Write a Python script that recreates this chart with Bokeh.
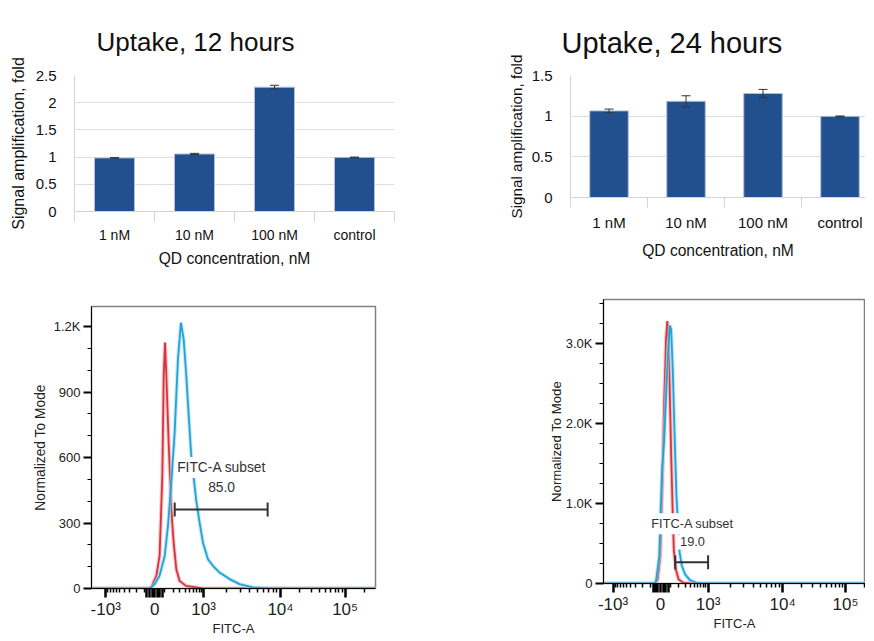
import numpy as np
from bokeh.plotting import figure
from bokeh.models import FixedTicker, Whisker, TeeHead, ColumnDataSource, Label, Range1d, Title
from bokeh.layouts import column, row
from bokeh.embed import file_html
from bokeh.resources import INLINE

FONT = "Liberation Sans"

# ---------------- bar chart data ----------------
CATEGORIES = ["1 nM", "10 nM", "100 nM", "control"]
UPTAKE_12H = [0.985, 1.057, 2.285, 0.995]
ERR_12H = [0.006, 0.012, 0.035, 0.005]
UPTAKE_24H = [1.065, 1.183, 1.279, 0.998]
ERR_24H = [0.022, 0.068, 0.050, 0.004]
Y_TICKS_12H = [0, 0.5, 1, 1.5, 2, 2.5]
Y_TICKS_24H = [0, 0.5, 1, 1.5]

# ---------------- flow histograms (FITC-A intensity, count) ----------------
RED_12H_X = [-3000, -60, -32, 16, 47, 74, 88, 102, 116, 142, 174, 204, 242, 293, 417, 968, 300000]
RED_12H_Y = [0, 0, 5, 58, 149, 516, 974, 1127, 974, 669, 363, 211, 88, 35, 12, 0, 0]
BLUE_12H_X = [-3000, -46, 0, 46, 98, 134, 174, 218, 267, 317, 368, 423, 485, 546, 700, 823, 967,
              1138, 1321, 1615, 2178, 2938, 4375, 7213, 300000]
BLUE_12H_Y = [0, 0, 20, 58, 149, 287, 485, 714, 1050, 1218, 1142, 974, 775, 607, 401, 302, 211,
              134, 104, 73, 43, 20, 5, 0, 0]
RED_24H_X = [-3000, -50, -28, -3, 16, 35, 54, 67, 81, 94, 108, 123, 138, 162, 200, 273, 469, 300000]
RED_24H_Y = [0, 0, 51, 346, 1190, 2245, 3047, 3279, 3004, 2330, 1612, 979, 430, 177, 51, 8, 0, 0]
BLUE_24H_X = [-3000, -60, -44, -12, 3, 16, 35, 54, 74, 94, 108, 126, 146, 170, 213, 247, 300, 394,
              555, 770, 300000]
BLUE_24H_Y = [0, 0, 30, 346, 979, 1443, 1781, 2330, 2878, 3224, 3174, 2667, 1908, 1105, 389, 219,
              114, 42, 9, 0, 0]

GATE_12H = dict(lower=219, upper=6800, height=362, value="85.0")
GATE_24H = dict(lower=155, upper=1000, height=266, value="19.0")

X_MAJOR = [-1000, 0, 1000, 10000, 100000]
X_MAJOR_LABELS = ["-10³", "0", "10³", "10⁴", "10⁵"]
X_ZERO_CLUSTER = [-75, -50, -25, 25, 50, 75]
X_MINOR = ([-v for v in range(100, 1000, 100)] + list(range(100, 1000, 100)) +
           list(range(2000, 10000, 1000)) + list(range(20000, 100000, 10000)) + [200000])

Y12_MAJOR = [0, 300, 600, 900, 1200]
Y12_LABELS = ["0", "300", "600", "900", "1.2K"]
Y12_MINOR = list(range(100, 1300, 100))
Y24_MAJOR = [0, 1000, 2000, 3000]
Y24_LABELS = ["0", "1.0K", "2.0K", "3.0K"]
Y24_MINOR = list(range(250, 3750, 250))

# biexponential-like display transform of the FITC-A axis
LIN_WIDTH = 200.0
DEC_3_4 = 1.57
DEC_4_5 = 1.32


def fluor_to_display(v):
    v = np.asarray(v, dtype=float)
    a = np.abs(v)
    lin = np.arcsinh(a / LIN_WIDTH) / np.arcsinh(1000.0 / LIN_WIDTH)
    la = np.log10(np.maximum(a, 1.0))
    logpart = np.where(a <= 1e4, 1.0 + (la - 3.0) * DEC_3_4, 1.0 + DEC_3_4 + (la - 4.0) * DEC_4_5)
    return np.sign(v) * np.where(a <= 1000.0, lin, logpart)


def tick_pos(vals):
    return [round(float(x), 6) for x in fluor_to_display(vals)]


# ---------------- bar charts ----------------
def bar_chart(title, values, errs, yticks, frame, borders, xmax, title_size, title_offset,
              title_standoff, cat_size, cat_standoff, xlab_standoff, ylab_size, ylab_standoff):
    left, right, top, bottom = borders
    fw, fh = frame
    p = figure(frame_width=fw, frame_height=fh, x_range=Range1d(0, xmax),
               y_range=Range1d(0, yticks[-1]), output_backend="svg", toolbar_location=None,
               min_border_left=left, min_border_right=right, min_border_top=top,
               min_border_bottom=bottom, title=None)
    p.outline_line_color = None
    p.background_fill_color = "white"
    p.border_fill_color = "white"

    p.add_layout(Title(text=title, text_font=FONT, text_font_size=title_size,
                       text_font_style="normal", text_color="#111111", align="left",
                       offset=title_offset, standoff=title_standoff), "above")

    centers = [i + 0.5 for i in range(len(CATEGORIES))]
    src = ColumnDataSource(dict(x=centers, top=values,
                                upper=[v + e for v, e in zip(values, errs)],
                                lower=[v - e for v, e in zip(values, errs)]))
    p.vbar(x="x", top="top", width=0.5, source=src, fill_color="#22508f",
           line_color="#aebfd9", line_width=1)
    w = Whisker(source=src, base="x", upper="upper", lower="lower", line_color="#333333",
                line_width=1,
                upper_head=TeeHead(size=9, line_color="#333333", line_width=1),
                lower_head=TeeHead(size=9, line_color="#333333", line_width=1))
    w.level = "overlay"
    p.add_layout(w)

    p.xgrid.grid_line_color = None
    p.ygrid.grid_line_color = "#dedede"
    p.ygrid.grid_line_width = 1

    ya = p.yaxis[0]
    ya.ticker = FixedTicker(ticks=yticks)
    ya.major_label_overrides = {t: f"{t:g}" for t in yticks}
    ya.axis_line_color = "#d4d4d4"
    ya.major_tick_line_color = None
    ya.minor_tick_line_color = None
    ya.major_label_text_font = FONT
    ya.major_label_text_font_size = "15px"
    ya.major_label_text_color = "#111111"
    ya.major_label_standoff = 12
    ya.axis_label = "Signal amplification, fold"
    ya.axis_label_text_font = FONT
    ya.axis_label_text_font_size = ylab_size
    ya.axis_label_text_font_style = "normal"
    ya.axis_label_text_color = "#111111"
    ya.axis_label_standoff = ylab_standoff

    xa = p.xaxis[0]
    xa.ticker = FixedTicker(ticks=centers, minor_ticks=list(range(len(CATEGORIES) + 1)))
    xa.major_label_overrides = {c: n for c, n in zip(centers, CATEGORIES)}
    xa.major_tick_line_color = None
    xa.major_tick_out = 0
    xa.major_tick_in = 0
    xa.minor_tick_out = 10
    xa.minor_tick_in = 0
    xa.minor_tick_line_color = "#d4d4d4"
    xa.axis_line_color = "#d4d4d4"
    xa.major_label_text_font = FONT
    xa.major_label_text_font_size = cat_size
    xa.major_label_text_color = "#111111"
    xa.major_label_standoff = cat_standoff
    xa.axis_label = "QD concentration, nM"
    xa.axis_label_text_font = FONT
    xa.axis_label_text_font_size = "15.6px"
    xa.axis_label_text_font_style = "normal"
    xa.axis_label_text_color = "#111111"
    xa.axis_label_standoff = xlab_standoff
    return p


f1 = bar_chart("Uptake, 12 hours", UPTAKE_12H, ERR_12H, Y_TICKS_12H, (320, 136), (74, 93, 75, 61),
               4.0, "26px", 22, 38, "14px", 5, 4, "16px", 6)
f2 = bar_chart("Uptake, 24 hours", UPTAKE_24H, ERR_24H, Y_TICKS_24H, (295, 122), (83, 0, 75, 75),
               295 / 77.0, "29px", -9, 34, "15px", 6, 8, "15.2px", 4)


# ---------------- flow cytometry histograms ----------------
def flow_plot(red_x, red_y, blue_x, blue_y, gate, ymax, ymajor, ylabels, yminor, frame,
              borders, xstart, xend, label_xy, value_xy, label_size, ylab_size, ylab_standoff):
    left, right, top, bottom = borders
    fw, fh = frame
    p = figure(frame_width=fw, frame_height=fh, x_range=Range1d(xstart, xend),
               y_range=Range1d(0, ymax), output_backend="svg", toolbar_location=None,
               min_border_left=left, min_border_right=right, min_border_top=top,
               min_border_bottom=bottom, title=None)
    p.outline_line_color = "#808080"
    p.outline_line_width = 1.5
    p.xgrid.grid_line_color = None
    p.ygrid.grid_line_color = None

    rx = fluor_to_display(red_x)
    bx = fluor_to_display(blue_x)
    p.line(rx, red_y, line_color="#f2a0a4", line_width=4, line_alpha=0.6)
    p.line(rx, red_y, line_color="#d8343e", line_width=1.8)
    p.line(bx, blue_y, line_color="#9fd9f0", line_width=4, line_alpha=0.6)
    p.line(bx, blue_y, line_color="#22a4d6", line_width=1.8)

    gsrc = ColumnDataSource(dict(base=[gate["height"]],
                                 lower=tick_pos([gate["lower"]]),
                                 upper=tick_pos([gate["upper"]])))
    g = Whisker(source=gsrc, base="base", lower="lower", upper="upper", dimension="width",
                line_color="#333333", line_width=2,
                upper_head=TeeHead(size=14, line_color="#333333", line_width=2),
                lower_head=TeeHead(size=14, line_color="#333333", line_width=2))
    g.level = "overlay"
    p.add_layout(g)

    for (lx, ly), txt in ((label_xy, "FITC-A subset"), (value_xy, gate["value"])):
        p.add_layout(Label(x=tick_pos([lx])[0], y=ly, text=txt, text_align="center",
                           text_baseline="middle", text_font=FONT, text_font_size=label_size,
                           text_color="#333333", background_fill_color="white",
                           background_fill_alpha=1.0, padding=3))

    xa = p.xaxis[0]
    major = X_MAJOR + X_ZERO_CLUSTER
    xa.ticker = FixedTicker(ticks=tick_pos(major), minor_ticks=tick_pos(X_MINOR))
    overrides = {k: lab for k, lab in zip(tick_pos(X_MAJOR), X_MAJOR_LABELS)}
    overrides.update({k: "" for k in tick_pos(X_ZERO_CLUSTER)})
    xa.major_label_overrides = overrides
    xa.axis_line_color = "black"
    xa.axis_line_width = 1
    xa.major_tick_line_width = 2.5
    xa.major_tick_out = 9
    xa.major_tick_in = 0
    xa.minor_tick_line_width = 1.5
    xa.minor_tick_out = 4
    xa.minor_tick_in = 0
    xa.major_label_text_font = FONT
    xa.major_label_text_font_size = "17px"
    xa.major_label_text_color = "#222222"
    xa.major_label_standoff = 2
    xa.axis_label = "FITC-A"
    xa.axis_label_text_font = FONT
    xa.axis_label_text_font_size = "13px"
    xa.axis_label_text_font_style = "normal"
    xa.axis_label_text_color = "#222222"
    xa.axis_label_standoff = -1

    ya = p.yaxis[0]
    ya.ticker = FixedTicker(ticks=ymajor, minor_ticks=yminor)
    ya.major_label_overrides = {k: lab for k, lab in zip(ymajor, ylabels)}
    ya.axis_line_color = "black"
    ya.major_tick_line_width = 2
    ya.major_tick_out = 8
    ya.major_tick_in = 0
    ya.minor_tick_line_width = 1
    ya.minor_tick_out = 4
    ya.minor_tick_in = 0
    ya.major_label_text_font = FONT
    ya.major_label_text_font_size = "13px"
    ya.major_label_text_color = "#222222"
    ya.major_label_standoff = 3
    ya.axis_label = "Normalized To Mode"
    ya.axis_label_text_font = FONT
    ya.axis_label_text_font_size = ylab_size
    ya.axis_label_text_font_style = "normal"
    ya.axis_label_text_color = "#222222"
    ya.axis_label_standoff = ylab_standoff
    return p


f3 = flow_plot(RED_12H_X, RED_12H_Y, BLUE_12H_X, BLUE_12H_Y, GATE_12H, 1292, Y12_MAJOR, Y12_LABELS,
               Y12_MINOR, (284, 282), (91, 112, 34, 44), -1.29, 4.51, (1714, 554), (1714, 463),
               "13.8px", "13.8px", 3)
f4 = flow_plot(RED_24H_X, RED_24H_Y, BLUE_24H_X, BLUE_24H_Y, GATE_24H, 3550, Y24_MAJOR, Y24_LABELS,
               Y24_MINOR, (262, 284), (116, 0, 27, 49), -1.2, 4.311, (452, 747), (452, 519),
               "12.8px", "13.2px", -1)

layout = column(row(f1, f2), row(f3, column(f4)))
open("out.html", "w").write(file_html(layout, INLINE))
